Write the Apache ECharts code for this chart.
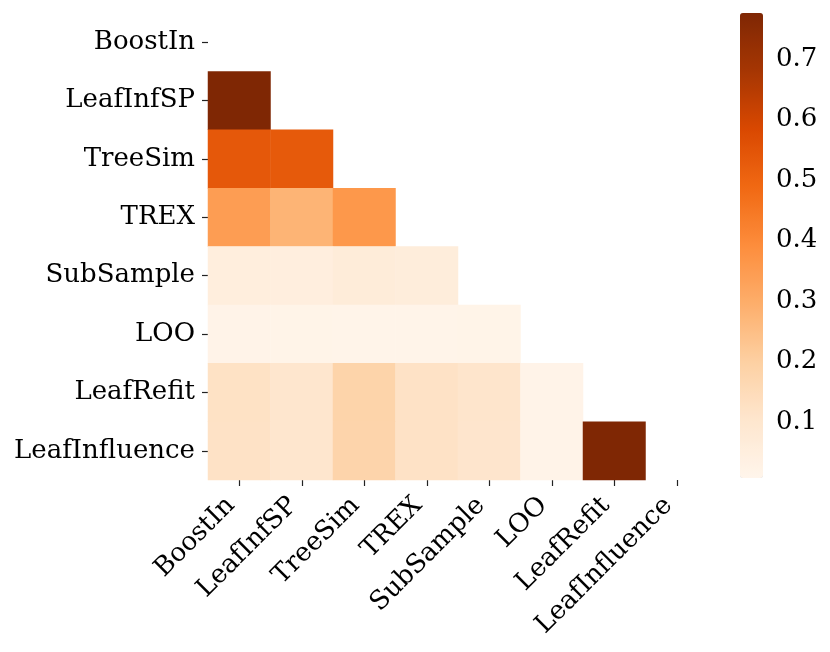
<!DOCTYPE html>
<html>
<head>
<meta charset="utf-8">
<script src="https://cdn.jsdelivr.net/npm/echarts@6/dist/echarts.min.js"></script>
<style>
  html, body { margin: 0; padding: 0; background: #fff; }
  #main { width: 830px; height: 652px; }
</style>
</head>
<body>
<div id="main"></div>
<script>
// method names, same order on both axes
const methods = ['BoostIn', 'LeafInfSP', 'TreeSim', 'TREX', 'SubSample', 'LOO', 'LeafRefit', 'LeafInfluence'];

// lower triangle, one array per row (columns BoostIn, LeafInfSP, ...)
const rowBoostIn = [];
const rowLeafInfSP = [0.776];
const rowTreeSim = [0.536, 0.53];
const rowTREX = [0.345, 0.278, 0.36];
const rowSubSample = [0.055, 0.05, 0.066, 0.06];
const rowLOO = [0.017, 0.016, 0.015, 0.015, 0.016];
const rowLeafRefit = [0.122, 0.103, 0.182, 0.12, 0.107, 0.018];
const rowLeafInfluence = [0.12, 0.103, 0.18, 0.12, 0.106, 0.018, 0.775];

const colorMin = 0.007;
const colorMax = 0.776;
const colorTicks = [0.1, 0.2, 0.3, 0.4, 0.5, 0.6, 0.7];

// matplotlib Oranges
const oranges = ['#fff5eb', '#fee6ce', '#fdd0a2', '#fdae6b', '#fd8d3c', '#f16913', '#d94801', '#a63603', '#7f2704'];

const rows = [rowBoostIn, rowLeafInfSP, rowTreeSim, rowTREX, rowSubSample, rowLOO, rowLeafRefit, rowLeafInfluence];
const data = [];
rows.forEach(function (row, y) {
  row.forEach(function (v, x) {
    data.push([x, y, v]);
  });
});

const font = 'DejaVu Serif';
const chart = echarts.init(document.getElementById('main'));

const option = {
  animation: false,
  grid: [
    { left: 208, top: 13, width: 500, height: 467 },
    { left: 740, top: 13, width: 23, height: 465 }
  ],
  xAxis: [{
    type: 'category',
    gridIndex: 0,
    data: methods,
    axisLine: { show: false },
    axisTick: { show: true, alignWithLabel: true, length: 6, lineStyle: { color: '#222', width: 1.2 } },
    axisLabel: { rotate: 45, margin: 13, padding: [0, 12, 0, 0], color: '#000', fontFamily: font, fontSize: 26, interval: 0 },
    splitLine: { show: false }
  }, {
    type: 'value',
    gridIndex: 1,
    show: false
  }],
  yAxis: [{
    type: 'category',
    gridIndex: 0,
    inverse: true,
    data: methods,
    axisLine: { show: false },
    axisTick: { show: true, alignWithLabel: true, length: 6, lineStyle: { color: '#222', width: 1.2 } },
    axisLabel: { margin: 13, color: '#000', fontFamily: font, fontSize: 26, interval: 0 },
    splitLine: { show: false }
  }, {
    type: 'value',
    gridIndex: 1,
    position: 'right',
    min: colorMin,
    max: colorMax,
    axisLine: { show: false },
    splitLine: { show: false },
    axisTick: { show: true, length: 6, customValues: colorTicks, lineStyle: { color: '#222', width: 1.2 } },
    axisLabel: {
      margin: 13,
      color: '#000',
      fontFamily: font,
      fontSize: 26,
      customValues: colorTicks,
      formatter: function (v) { return v.toFixed(1); }
    }
  }],
  visualMap: {
    type: 'continuous',
    min: colorMin,
    max: colorMax,
    seriesIndex: 0,
    calculable: false,
    left: 740,
    top: 13,
    padding: 0,
    itemWidth: 23,
    itemHeight: 465,
    inRange: { color: oranges }
  },
  series: [{
    type: 'heatmap',
    xAxisIndex: 0,
    yAxisIndex: 0,
    data: data,
    emphasis: { disabled: true }
  }]
};

chart.setOption(option);
</script>
</body>
</html>
